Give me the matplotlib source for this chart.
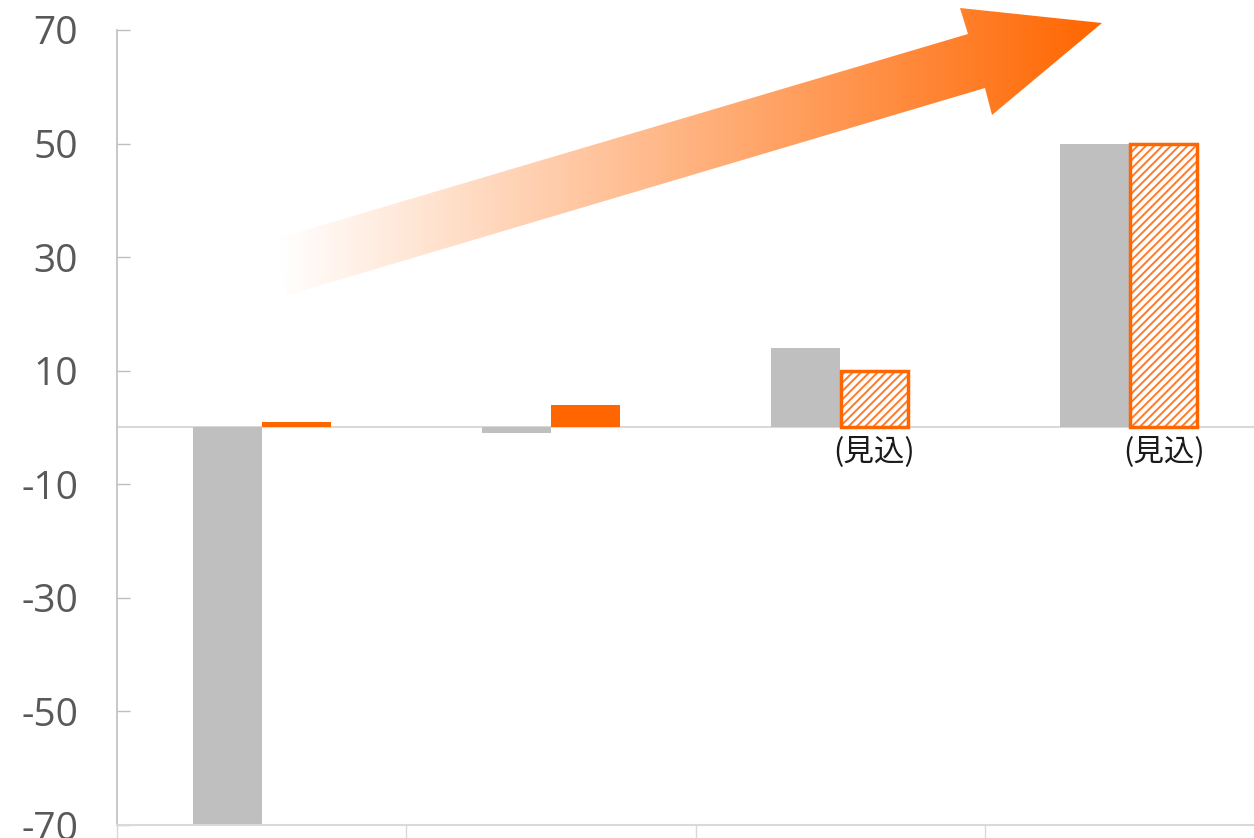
import numpy as np
import matplotlib
matplotlib.use("Agg")
from matplotlib import pyplot as plt
from matplotlib.patches import Polygon

plt.rcParams['font.family'] = ['Noto Sans CJK JP', 'DejaVu Sans']
plt.rcParams['axes.unicode_minus'] = False
plt.rcParams['hatch.linewidth'] = 1.4

# data
groups = [0, 1, 2, 3]
gray_vals = [-70, -0.9, 14, 50]
orange_vals = [0.9, 4, 10, 50]
forecast = [False, False, True, True]
yticks = [-70, -50, -30, -10, 10, 30, 50, 70]
note = "(見込)"

GRAY = '#BFBFBF'
ORANGE = '#FF6600'
W, H = 1254, 838

fig = plt.figure(figsize=(W / 100, H / 100), dpi=100)
ax = fig.add_axes([117 / W, 1 - 825 / H, (1274 - 117) / W, (825 - 30) / H])

w = 0.2385
x = np.array(groups)
ax.bar(x - w / 2, gray_vals, width=w, color=GRAY, zorder=2)
for xi, v, f in zip(x, orange_vals, forecast):
    if f:
        ax.bar(xi + w / 2, v, width=w, color='white', edgecolor='#FF7A2A',
               hatch='////', linewidth=0, zorder=2)
        ax.bar(xi + w / 2, v, width=w * 0.97, fill=False, edgecolor=ORANGE,
               linewidth=2.5, zorder=3)
        ax.text(xi + w / 2, -1.5, note, ha='center', va='top', fontsize=22,
                color='#1a1a1a')
    else:
        ax.bar(xi + w / 2, v, width=w, color=ORANGE, zorder=2)

ax.axhline(0, color='#D9D9D9', lw=1.5, zorder=1)

ax.set_xlim(-0.5, 3.5)
ax.set_ylim(-70, 70)
ax.set_yticks(yticks)
ax.set_yticklabels([str(v) for v in yticks], family='Open Sans')
ax.set_xticks([-0.5, 0.5, 1.5, 2.5, 3.5])
ax.set_xticklabels([])
ax.tick_params(axis='y', direction='in', length=9.4, width=1, color=GRAY,
               labelsize=28, labelcolor='#595959', pad=28)
ax.tick_params(axis='x', direction='out', length=9.4, width=1, color='#D9D9D9')
for s in ['top', 'right']:
    ax.spines[s].set_visible(False)
ax.spines['left'].set_color(GRAY)
ax.spines['bottom'].set_color('#D9D9D9')
ax.spines['left'].set_linewidth(1.2)
ax.spines['bottom'].set_linewidth(1.5)

# gradient arrow overlay (pixel coords)
ov = fig.add_axes([0, 0, 1, 1], facecolor='none')
ov.set_xlim(0, W)
ov.set_ylim(H, 0)
ov.axis('off')
arrow_pts = [(272, 240), (968, 34), (960, 8), (1102, 23), (992, 115),
             (985, 88), (288, 295)]
poly = Polygon(arrow_pts, closed=True, facecolor='none', edgecolor='none')
ov.add_patch(poly)
t = np.clip((np.linspace(0, W, 600) - 280) / (1100 - 280), 0, 1)
c0 = np.array([1.0, 1.0, 1.0])
c1 = np.array([1.0, 0x66 / 255, 0.0])
grad = c0[None, :] * (1 - t[:, None]) + c1[None, :] * t[:, None]
img = ov.imshow(grad[None, :, :], extent=[0, W, H, 0], aspect='auto',
                interpolation='bilinear', zorder=5)
img.set_clip_path(poly)

fig.savefig('out.png', dpi=100)
